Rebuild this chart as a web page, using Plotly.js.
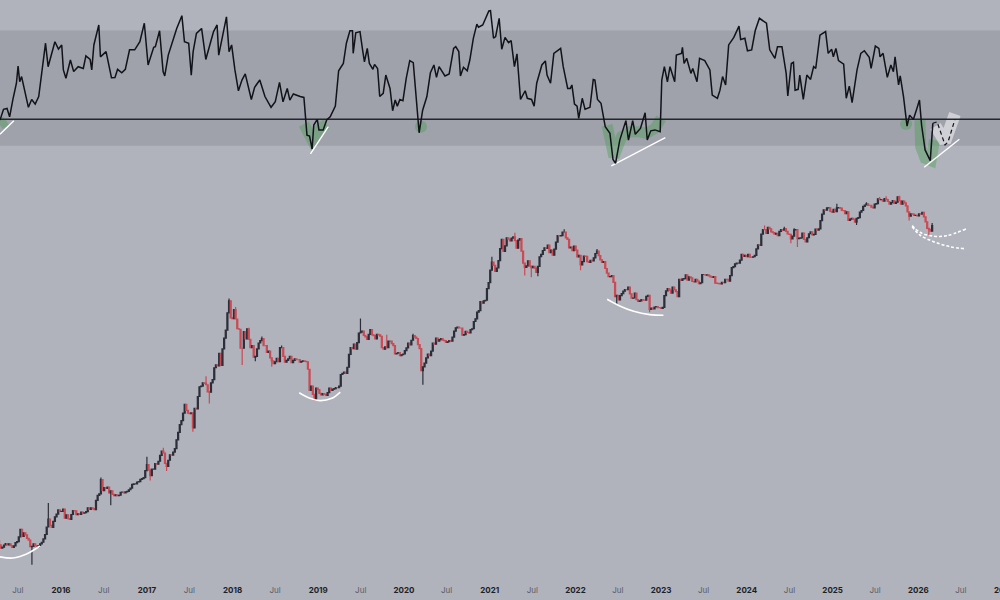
<!DOCTYPE html>
<html><head><meta charset="utf-8">
<script src="https://cdn.plot.ly/plotly-3.0.1.min.js"></script>
<style>html,body{margin:0;padding:0;overflow:hidden;background:#b0b2bc}#c{width:1030px;height:600px}</style>
</head><body><div id="c"></div>
<script>
const tickDates=["2015-07-01","2016-01-01","2016-07-01","2017-01-01","2017-07-01","2018-01-01","2018-07-01","2019-01-01","2019-07-01","2020-01-01","2020-07-01","2021-01-01","2021-07-01","2022-01-01","2022-07-01","2023-01-01","2023-07-01","2024-01-01","2024-07-01","2025-01-01","2025-07-01","2026-01-01","2026-07-01","2027-01-01"];
const tickLabels=["Jul","2016","Jul","2017","Jul","2018","Jul","2019","Jul","2020","Jul","2021","Jul","2022","Jul","2023","Jul","2024","Jul","2025","Jul","2026","Jul","2027"];

const firstCandle="2015-03-29";
const closes=[245,236,226,241,240,225,245,272,275,282,257,229,232,233,247,284,374,323,390,442,
431,381,378,407,435,412,424,420,459,458,443,574,764,660,665,624,570,570,607,600,617,655,705,730,765,790,
998,820,920,1005,1180,1230,965,1190,1250,1560,2050,2520,2650,2500,1930,2720,4050,4350,4200,3670,4600,6000,7400,8000,11200,19000,13800,
13700,11400,8100,9600,9500,8500,7000,8900,9650,8500,7700,6450,6350,6350,8200,6300,6700,6250,6700,6600,6400,6400,5550,4100,3200,3850,
3500,3530,3650,3800,3920,3980,5050,5280,5750,8200,8730,8950,10800,10200,9500,11300,10150,10400,10050,7950,8200,9200,8500,7400,7100,7300,
8150,8600,10150,9650,8050,5800,6800,7100,8900,9700,9450,9350,9000,9300,9900,11700,11650,10250,10950,10680,11500,13750,15950,18200,19200,26400,
38200,32300,39200,57500,51000,57600,58700,56200,56600,46500,34600,39000,34500,34200,35300,43800,49300,51700,47300,48200,61500,61300,65500,57300,50000,50800,
41900,36300,42400,38400,39400,41200,46400,39700,38500,31300,29400,26500,21000,20900,22600,23200,21500,20000,19400,19000,19250,20600,16300,16450,17100,16800,
16900,22700,23000,24300,22400,27900,28200,30300,29200,26900,28000,25900,30500,30200,29800,29000,26100,25900,26500,28000,27100,34500,37000,37400,43800,43000,
43900,41600,43000,52100,63100,68400,71300,65700,63100,61500,68500,69600,63200,58000,68200,58100,58900,57300,59100,65600,62900,67900,80400,97700,101100,95100,
98300,101000,100600,96100,94200,82600,82300,83600,93700,104100,108900,105700,101000,109200,117300,114200,117400,108300,115300,112100,115000,114500,104700,87000,90400,88500,
91000,93500,78700,68800,73500];
const midWeekCloses=[253,222,235,236,232,231,250,311,293,265,228,240,226,240,262,325,335,360,410,430,
448,405,372,437,405,408,417,428,445,452,525,590,625,650,600,585,580,575,608,612,635,700,705,735,775,895,
905,920,1015,1060,1275,1020,1080,1185,1330,1780,2200,2950,2520,2530,2750,3400,4100,4300,3700,4350,5700,5900,5950,9700,15300,14000,16200,
11500,8100,10900,11500,8200,6900,8000,9300,8500,7500,6800,6150,6750,8200,7000,6500,7000,6500,6600,6300,6450,6350,3800,3530,3950,3600,
3580,3470,3950,3880,3990,4090,5150,5150,7250,8050,7950,10650,11000,9950,10400,10300,9600,10300,8200,8300,9200,8800,7300,7500,7200,7750,
8900,9350,9900,8650,5400,6200,7300,7700,8700,9200,9650,9300,9100,9200,11000,11850,11650,10350,10750,11300,13100,15500,18700,19000,23700,33000,
36000,34300,48600,46300,59000,55800,60000,49000,58200,37500,35600,35500,35300,31700,42000,47000,48900,45200,43200,54700,61000,65500,59000,49300,46900,47300,
43000,38500,42200,38000,39000,44500,42800,38000,34000,29300,29900,20500,19300,21600,23300,24300,19950,21800,18800,19400,19200,21000,16700,17000,16800,16550,
20900,23700,21850,23200,20500,27500,28300,27600,28700,26750,27100,26300,30500,30300,29200,29400,26000,25800,26300,27900,29900,35100,37400,39500,42300,42100,
41700,42000,48300,51600,68500,64000,69400,64900,64000,66300,67700,66200,62700,60800,68300,58700,64200,54800,63500,62100,69000,69300,90500,97000,101300,93700,
94500,101800,96500,91000,80700,83900,78300,85000,96500,106500,105700,102500,108300,119000,117600,119300,113400,111100,109700,123500,108000,110600,94000,90900,88200,87500,
90500,86000,70000,66500];
const highWicks={"2015-11-08":500,"2016-06-19":790,"2017-01-01":1150,"2017-03-12":1350,"2017-06-18":2980,"2017-09-10":4900,"2017-12-17":19800,"2018-01-14":17000,"2018-03-11":11700,"2018-05-06":10000,"2018-07-29":8500,"2019-06-30":13800,"2019-10-20":10300,"2020-02-09":10500,"2021-01-10":41900,"2021-04-18":64800,"2021-11-14":69000,"2022-04-03":48200,"2024-03-17":73700,"2024-06-09":72000,"2024-07-21":70000,"2025-01-19":109000,"2025-05-25":112000,"2025-07-20":123000,"2025-08-17":124500,"2025-10-12":126000,"2026-03-01":77000};
const lowWicks={"2015-08-30":165,"2016-07-31":480,"2017-01-15":750,"2017-03-26":890,"2017-07-16":1800,"2017-09-24":3000,"2018-02-11":6000,"2018-04-08":6400,"2018-06-17":5800,"2020-03-22":4200,"2021-05-30":30000,"2021-06-27":29000,"2021-07-25":29500,"2022-01-23":33000,"2022-06-26":17600,"2022-11-13":15500,"2024-07-07":53500,"2024-08-04":50000,"2025-04-13":74500,"2025-11-23":80600,"2026-02-15":62000};

const rsiYears=[2015.29,2015.33,2015.37,2015.40,2015.44,2015.48,2015.50,2015.52,2015.54,2015.58,2015.62,2015.66,2015.70,2015.74,2015.77,2015.82,2015.85,2015.89,2015.93,2015.97,2016.01,2016.03,2016.06,2016.11,2016.15,2016.20,2016.26,2016.29,2016.34,2016.36,2016.385,2016.44,2016.46,2016.525,2016.59,2016.63,2016.66,2016.71,2016.75,2016.80,2016.86,2016.92,2016.97,2017.015,2017.08,2017.10,2017.15,2017.19,2017.21,2017.25,2017.35,2017.41,2017.44,2017.49,2017.52,2017.54,2017.58,2017.64,2017.69,2017.73,2017.78,2017.82,2017.84,2017.93,2017.96,2017.99,2018.03,2018.07,2018.11,2018.15,2018.19,2018.22,2018.26,2018.32,2018.38,2018.45,2018.50,2018.55,2018.59,2018.64,2018.67,2018.71,2018.79,2018.835,2018.87,2018.90,2018.93,2018.95,2018.99,2019.01,2019.06,2019.10,
2019.14,2019.20,2019.24,2019.295,2019.33,2019.37,2019.40,2019.41,2019.44,2019.49,2019.52,2019.54,2019.575,2019.60,2019.64,2019.66,2019.695,2019.72,2019.76,2019.79,2019.84,2019.87,2019.90,2019.925,2019.955,2019.99,2020.03,2020.07,2020.11,2020.14,2020.18,2020.22,2020.27,2020.31,2020.35,2020.38,2020.41,2020.48,2020.53,2020.58,2020.605,2020.64,2020.66,2020.695,2020.74,2020.77,2020.81,2020.85,2020.87,2020.92,2020.99,2021.01,2021.045,2021.07,2021.11,2021.14,2021.18,2021.22,2021.25,2021.29,2021.32,2021.36,2021.415,2021.44,2021.49,2021.52,2021.55,2021.61,2021.65,2021.67,2021.71,2021.75,2021.83,2021.86,2021.91,2021.94,2021.96,2021.99,2022.02,2022.04,2022.08,2022.115,2022.17,2022.21,2022.23,2022.26,2022.30,2022.35,2022.39,2022.405,2022.44,2022.47,2022.52,2022.55,2022.59,2022.62,2022.67,2022.70,2022.76,2022.815,2022.84,2022.88,2022.93,2022.99,
2023.01,2023.04,2023.075,2023.105,2023.16,2023.18,2023.24,2023.25,2023.27,2023.30,2023.35,2023.37,2023.42,2023.45,2023.51,2023.57,2023.60,2023.66,2023.69,2023.72,2023.755,2023.79,2023.85,2023.91,2023.93,2023.98,2024.01,2024.06,2024.10,2024.15,2024.23,2024.27,2024.33,2024.36,2024.41,2024.46,2024.48,2024.52,2024.545,2024.565,2024.60,2024.62,2024.66,2024.70,2024.745,2024.78,2024.805,2024.855,2024.92,2024.95,2024.99,2025.01,2025.04,2025.07,2025.13,2025.16,2025.195,2025.23,2025.285,2025.33,2025.37,2025.43,2025.45,2025.50,2025.54,2025.555,2025.59,2025.64,2025.68,2025.71,2025.73,2025.77,2025.79,2025.83,2025.87,2025.90,2025.945,2025.985,2026.015,2026.04,2026.08,2026.14,2026.17];
const rsiValues=[38.9,42.6,42.9,40.0,46.0,51.6,57.5,52.1,53.9,49.2,43.3,46.0,44.4,47.0,54.4,65.4,57.3,61.9,65.9,63.4,64.8,56.2,53.3,59.6,55.6,57.3,56.7,61.0,59.8,56.2,64.8,71.7,60.7,62.5,53.5,53.6,56.4,55.2,56.4,63.1,63.1,65.9,72.3,57.9,64.0,64.2,69.7,55.6,54.1,61.3,70.5,74.9,65.9,65.4,54.4,62.5,68.8,70.5,59.8,64.2,69.4,71.7,61.3,74.5,62.5,64.8,56.2,49.0,52.7,54.8,49.2,46.0,50.2,52.7,47.0,43.3,45.2,51.9,45.2,49.8,45.8,47.9,47.0,46.7,33.7,33.4,28.9,37.2,39.1,35.5,35.5,38.9,
40.0,43.7,55.9,58.4,65.4,69.7,69.7,61.9,69.0,69.4,63.1,59.0,63.6,58.4,56.4,58.1,56.7,47.0,48.1,54.4,49.8,42.1,45.8,43.7,46.0,45.6,53.3,59.4,58.7,49.2,34.5,42.3,47.0,55.2,57.9,53.6,57.3,54.1,54.8,63.6,64.2,62.5,54.1,57.1,55.9,59.6,67.1,72.0,70.9,71.7,76.5,76.6,67.1,67.7,74.0,63.3,67.4,65.6,66.3,57.3,61.7,46.0,49.0,46.4,46.0,43.7,51.6,57.9,59.3,54.4,51.6,61.9,63.6,57.3,49.8,49.8,51.0,44.4,43.7,39.5,46.4,42.6,43.3,52.9,52.7,46.0,44.7,36.6,34.9,34.3,25.3,24.0,32.0,34.9,38.7,32.0,38.7,34.0,36.0,41.4,32.0,35.2,35.5,34.9,
52.7,57.3,52.1,57.3,52.1,61.3,61.9,64.0,58.4,60.2,55.0,56.7,52.1,60.2,59.4,56.2,47.5,46.4,49.2,53.9,51.0,64.8,67.4,71.3,66.7,67.1,62.8,63.1,69.7,74.0,72.3,63.1,60.2,64.2,64.2,55.0,47.2,58.4,58.8,49.2,49.5,54.4,46.0,54.4,52.9,57.3,56.7,68.2,69.4,61.9,63.3,60.7,63.6,59.4,58.2,46.4,50.6,44.9,56.2,61.9,62.8,60.5,56.7,64.4,63.6,60.7,61.9,53.6,57.9,55.6,60.7,51.0,54.1,47.0,36.8,40.6,39.1,42.9,45.8,37.2,28.6,24.9,37.8];

const projYears=[2026.17,2026.22,2026.315,2026.35,2026.43];
const projValues=[37.8,38.3,30.3,31.4,39.1];

const midYears=[2015.0,2027.5];
const midValues=[39.2,39.2];

const trend1Years=[2015.29,2015.45], trend1Values=[34.0,38.7];
const trend2Years=[2018.91,2019.12], trend2Values=[27.2,36.6];
const trend3Years=[2022.42,2023.05], trend3Values=[23.1,32.8];
const trend4Years=[2026.07,2026.48], trend4Values=[22.6,32.3];

const green1Years=[2015.29,2015.36], green1Values=[37.2,38.7];
const green2Years=[2018.835,2018.93,2019.02,2019.10], green2Values=[37.5,32,36,37.5];
const green4Years=[2022.37,2022.45,2022.54,2022.64,2022.74,2022.83,2022.93,2023.0], green4Values=[37.1,26.2,33.2,34.9,34.9,34.3,36,39.5];
const green6Years=[2026.02,2026.03,2026.08,2026.15,2026.19], green6Values=[38.9,29.7,25.7,24.9,32];
const spotYears=[2020.20,2025.86], spotValues=[36.6,37.5];
const glowYears=[2026.20,2026.315,2026.43], glowValues=[36.8,31.4,41];

const arcAYears=[2015.29,2015.44,2015.60,2015.755], arcAPrices=[190,186,200,231];
const arcBYears=[2018.78,2018.905,2019.02,2019.16,2019.26], arcBPrices=[3640,3290,3155,3290,3680];
const arcCYears=[2022.37,2022.52,2022.68,2022.87,2023.03], arcCPrices=[19540,17320,15740,14820,14650];
const arcDYears=[2025.93,2026.02,2026.18,2026.33,2026.56], arcDPrices=[73450,65200,60700,61350,69200];
const arcEYears=[2025.93,2026.02,2026.18,2026.37,2026.55], arcEPrices=[72100,62100,55100,50300,48500];

function yd(y){const Y=Math.floor(y);const s=Date.UTC(Y,0,1),e=Date.UTC(Y+1,0,1);return new Date(s+(y-Y)*(e-s)).toISOString().slice(0,10);}
const D=a=>a.map(yd);

const weekly=[];
closes.forEach((c,i)=>{weekly.push(c);if(i<midWeekCloses.length)weekly.push(midWeekCloses[i]);});
const candleDates=[];
{let t=Date.parse(firstCandle+"T00:00:00Z");for(let i=0;i<weekly.length;i++){candleDates.push(new Date(t).toISOString().slice(0,10));t+=7*864e5;}}
const opens=weekly.map((c,i)=>i?weekly[i-1]:c);
const highs=weekly.map((c,i)=>Math.max(highWicks[candleDates[i]]||0,c,opens[i]));
const lows=weekly.map((c,i)=>Math.min(lowWicks[candleDates[i]]||Infinity,c,opens[i]));

const INK="#2c2f39", RED="#cb4a53";
const rl=(x,y,color,width,dash)=>({type:"scatter",mode:"lines",x:D(x),y,yaxis:"y2",hoverinfo:"skip",showlegend:false,line:{color,width,dash:dash||"solid"}});
const green="rgba(74,160,84,0.42)";
const pl=(x,y,dash)=>({type:"scatter",mode:"lines",x:D(x),y,hoverinfo:"skip",showlegend:false,line:{color:"#ffffff",width:1.6,shape:"spline",dash:dash||"solid"}});

const traces=[
 rl(green1Years,green1Values,green,10),
 rl(green2Years,green2Values,green,11),
 rl(green4Years,green4Values,green,11),
 rl(green6Years,green6Values,green,11),
 {type:"scatter",mode:"markers",x:D(spotYears),y:spotValues,yaxis:"y2",hoverinfo:"skip",showlegend:false,marker:{size:12,color:green}},
 rl(glowYears,glowValues,"rgba(255,255,255,0.5)",12),
 rl(midYears,midValues,"#24262c",1.4),
 rl(trend1Years,trend1Values,"#ffffff",1.4),
 rl(trend2Years,trend2Values,"#ffffff",1.4),
 rl(trend3Years,trend3Values,"#ffffff",1.4),
 rl(trend4Years,trend4Values,"#ffffff",1.4),
 rl(rsiYears,rsiValues,"#111318",1.5),
 rl(projYears,projValues,"#111318",1.2,"4px,3px"),
 {type:"candlestick",x:candleDates,open:opens,high:highs,low:lows,close:weekly,hoverinfo:"skip",showlegend:false,whiskerwidth:0,
  increasing:{line:{color:INK,width:1.2},fillcolor:INK},decreasing:{line:{color:RED,width:1.2},fillcolor:RED}},
 pl(arcAYears,arcAPrices),pl(arcBYears,arcBPrices),pl(arcCYears,arcCPrices),
 pl(arcDYears,arcDPrices,"3px,2px"),pl(arcEYears,arcEPrices,"3px,2px")
];
const layout={
 width:1030,height:600,margin:{l:0,r:0,t:0,b:16},boxgap:0.1,
 paper_bgcolor:"#b0b2bc",plot_bgcolor:"#b0b2bc",showlegend:false,
 font:{family:"Inter, 'Open Sans', sans-serif",size:8,color:"#1c1e25"},
 xaxis:{type:"date",range:["2015-04-16","2027-04-22"],rangeslider:{visible:false},showgrid:false,zeroline:false,showline:false,ticks:"",
  tickmode:"array",tickvals:tickDates,ticklabeloverflow:"allow",
  ticktext:tickLabels.map(t=>t==="Jul"?'<span style="color:#5a5c66">Jul</span>':"<b>"+t+"</b>"),tickangle:0,automargin:false,fixedrange:true},
 yaxis:{type:"log",range:[2.0665,6.629],showgrid:false,zeroline:false,showticklabels:false,ticks:"",fixedrange:true},
 yaxis2:{overlaying:"y",range:[-121.1,80.3],visible:false,fixedrange:true},
 shapes:[{type:"rect",layer:"below",xref:"paper",x0:0,x1:1,yref:"y2",y0:30,y1:69.8,fillcolor:"rgba(60,62,72,0.14)",line:{width:0}}]
};
Plotly.newPlot("c",traces,layout,{displayModeBar:false,staticPlot:true});
</script></body></html>
